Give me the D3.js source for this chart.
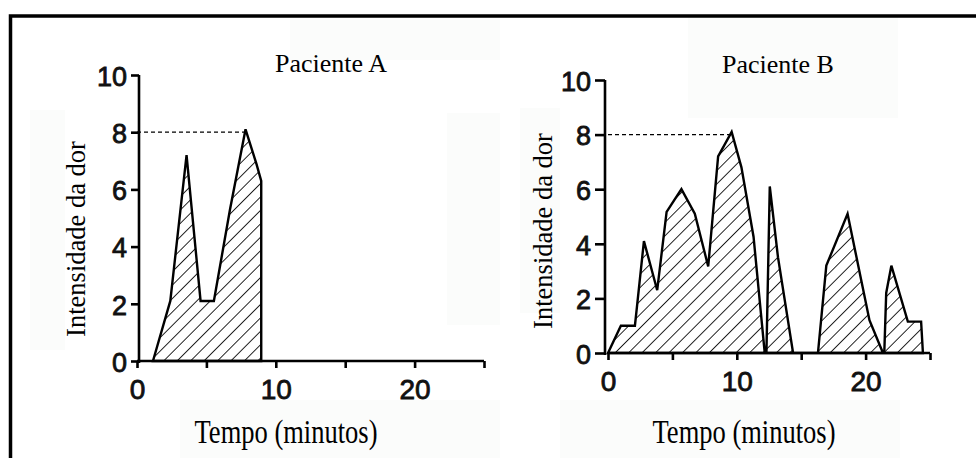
<!DOCTYPE html>
<html>
<head>
<meta charset="utf-8">
<script src="https://cdn.jsdelivr.net/npm/d3@7"></script>
<style>
  body { margin: 0; background: #fff; }
  svg { display: block; }
  .serif { font-family: "Liberation Serif", "Times New Roman", serif; fill: #000; }
  .axis text { font-family: "Liberation Sans", Arial, sans-serif; fill: #111; stroke: #111; stroke-width: 0.8px; }
  .axis path, .axis line { stroke: #000; stroke-width: 2.6px; }
</style>
</head>
<body>
<svg id="chart" width="976" height="458"></svg>
<script>
// values (time in minutes, pain intensity 0-10)
const timeA = [1.15, 2.4, 3.57, 4.58, 5.54, 6.7, 7.82, 8.6, 8.95, 8.95];
const painA = [0, 2.1, 7.2, 2.1, 2.1, 5.3, 8.1, 6.9, 6.3, 0];

const timeB = [0, 1, 2.09, 2.22, 2.79, 3.82, 4.55, 5.7, 6.74, 7.78, 8.55, 9.6, 10.36, 11.3, 12.17,
  12.3, 12.56, 13.2, 14.37, 16.3, 16.95, 18.6, 20.3, 21.35, 21.45, 21.6, 22.0, 23.28, 24.31, 24.45];
const painB = [0, 1, 1, 1.57, 4.1, 2.3, 5.17, 6.0, 5.1, 3.17, 7.2, 8.1, 6.8, 4.26, 0,
  0, 6.1, 3.5, 0, 0, 3.2, 5.1, 1.2, 0, 0, 2.2, 3.2, 1.15, 1.15, 0];

const xTicks = [0, 5, 10, 15, 20, 25];
const xLabels = [0, 10, 20];
const yTicks = [0, 2, 4, 6, 8, 10];
const refLevel = 8;
const titles = ["Paciente A", "Paciente B"];
const xTitle = "Tempo (minutos)";
const yTitle = "Intensidade da dor";

const svg = d3.select("#chart");

// hatch fill
const defs = svg.append("defs");
defs.append("pattern")
  .attr("id", "hatch")
  .attr("patternUnits", "userSpaceOnUse")
  .attr("width", 9.5).attr("height", 9.5)
  .attr("patternTransform", "rotate(45)")
  .append("line")
  .attr("x1", 0).attr("y1", 0).attr("x2", 0).attr("y2", 9.5)
  .attr("stroke", "#000").attr("stroke-width", 1.7);

// faint scan patches
[[180, 400, 320, 60], [560, 400, 340, 60], [688, 15, 210, 103], [290, 20, 210, 40],
 [447, 113, 53, 212], [520, 108, 40, 205], [30, 110, 35, 240]].forEach(r => {
  svg.append("rect").attr("x", r[0]).attr("y", r[1]).attr("width", r[2]).attr("height", r[3])
    .attr("fill", "#fbfcfb");
});

// outer frame
svg.append("rect")
  .attr("x", 10.5).attr("y", 16).attr("width", 1000).attr("height", 500)
  .attr("fill", "none").attr("stroke", "#000").attr("stroke-width", 3.5);

function panel(opt) {
  const x = d3.scaleLinear().domain([0, 25]).range([opt.x0, opt.x1]);
  const y = d3.scaleLinear().domain([0, 10]).range([opt.y0, opt.y1]);
  const g = svg.append("g");

  // dashed reference line to the highest peak
  const iMax = d3.maxIndex(opt.pain);
  g.append("line")
    .attr("x1", x(0)).attr("x2", x(opt.time[iMax]))
    .attr("y1", y(refLevel)).attr("y2", y(refLevel))
    .attr("stroke", "#000").attr("stroke-width", 1.2)
    .attr("stroke-dasharray", "4,3");

  const pts = opt.time.map((t, i) => [t, opt.pain[i]]);
  const area = d3.area()
    .x(d => x(d[0]))
    .y0(y(0))
    .y1(d => y(d[1]));
  g.append("path")
    .datum(pts)
    .attr("d", area)
    .attr("fill", "url(#hatch)")
    .attr("stroke", "#000")
    .attr("stroke-width", 2.4)
    .attr("stroke-linejoin", "miter");

  const ax = g.append("g")
    .attr("class", "axis")
    .attr("transform", "translate(0," + y(0) + ")")
    .call(d3.axisBottom(x).tickValues(xTicks).tickSize(7).tickSizeOuter(0)
      .tickFormat(d => xLabels.includes(d) ? d : ""));
  ax.selectAll("text").attr("font-size", 28).attr("y", 18);
  ax.select(".domain").attr("d", "M" + x(0) + ",0H" + x(25));

  const ay = g.append("g")
    .attr("class", "axis")
    .attr("transform", "translate(" + opt.ax + ",0)")
    .call(d3.axisLeft(y).tickValues(yTicks).tickSize(opt.tick).tickPadding(opt.pad).tickSizeOuter(0));
  ay.selectAll("text").attr("font-size", 27).attr("dy", "0.38em");
  ay.select(".domain").attr("d", "M0," + y(10) + "V" + (y(0) + 2));

  svg.append("text").attr("class", "serif")
    .attr("x", opt.titleX).attr("y", opt.titleY)
    .attr("text-anchor", "middle").attr("font-size", 26)
    .text(opt.title);

  svg.append("text").attr("class", "serif")
    .attr("transform", "translate(" + opt.xtX + ",443) scale(1.02,1.28)")
    .attr("text-anchor", "middle").attr("font-size", 26)
    .text(xTitle);

  svg.append("text").attr("class", "serif")
    .attr("transform", "translate(" + opt.ytX + "," + opt.ytY + ") rotate(-90)")
    .attr("text-anchor", "middle").attr("font-size", 26.5)
    .text(yTitle);
}

panel({ time: timeA, pain: painA, x0: 137, x1: 484, y0: 361, y1: 75, ax: 139, tick: 8, pad: 4,
  title: titles[0], titleX: 331, titleY: 72, xtX: 286, ytX: 85, ytY: 239 });
panel({ time: timeB, pain: painB, x0: 608, x1: 930, y0: 353, y1: 80, ax: 605, tick: 10, pad: 4,
  title: titles[1], titleX: 778, titleY: 73, xtX: 744, ytX: 552, ytY: 231 });
</script>
</body>
</html>
